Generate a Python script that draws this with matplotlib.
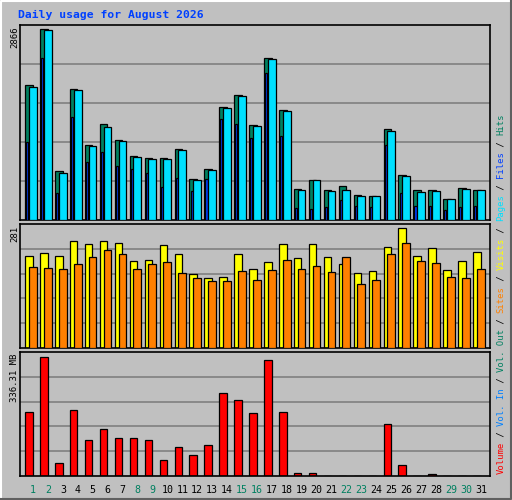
import matplotlib
matplotlib.use("Agg")
import matplotlib.pyplot as plt
import numpy as np

days = list(range(1, 32))
weekend = [1, 2, 8, 9, 15, 16, 22, 23, 29, 30]
hits = [2020, 2866, 730, 1960, 1120, 1435, 1195, 955, 925, 925, 1060, 610, 760, 1690, 1870, 1420,
        2425, 1645, 460, 595, 445, 505, 370, 355, 1360, 670, 445, 445, 310, 475, 445]
files = [1990, 2845, 700, 1945, 1105, 1390, 1180, 940, 910, 910, 1045, 595, 745, 1675, 1855, 1405,
         2410, 1630, 445, 595, 430, 445, 355, 355, 1330, 655, 415, 430, 310, 460, 445]
pages = [1165, 2425, 400, 1540, 865, 1015, 805, 760, 700, 490, 625, 430, 610, 1510, 1435, 1225,
         2200, 1255, 175, 160, 190, 295, 205, 190, 1120, 400, 205, 205, 145, 190, 205]
visits = [215, 222, 215, 251, 244, 251, 246, 204, 206, 241, 220, 173, 164, 166, 220, 185,
          201, 244, 211, 244, 213, 197, 176, 180, 237, 281, 215, 234, 183, 204, 225]
sites = [190, 187, 185, 197, 213, 229, 220, 185, 197, 201, 176, 164, 157, 157, 180, 159,
         183, 206, 185, 192, 178, 213, 150, 159, 220, 246, 204, 199, 166, 164, 185]
volume = [181, 336.31, 38, 187, 100, 131, 108, 108, 100, 46, 83, 60, 88, 235, 215, 178,
          328, 181, 9.4, 9.4, 0.6, 0.6, 0.6, 0.6, 147, 32, 0.6, 6.6, 0.6, 0.6, 0.6]

W, H = 512, 500
BG = "#c0c0c0"
fig = plt.figure(figsize=(W / 100, H / 100), dpi=100, facecolor=BG)
MONO = "DejaVu Sans Mono"

# outer bevel
from matplotlib.lines import Line2D
fig.add_artist(Line2D([1 / W, 1 / W, 1 - 1 / W], [1 / H, 1 - 1 / H, 1 - 1 / H], color="white", lw=1.5, transform=fig.transFigure))
fig.add_artist(Line2D([1 / W, 1 - 1 / W, 1 - 1 / W], [1 / H, 1 / H, 1 - 1 / H], color="#606060", lw=1.5, transform=fig.transFigure))


def px_axes(x0, y0, x1, y1):
    return fig.add_axes([x0 / W, 1 - y1 / H, (x1 - x0) / W, (y1 - y0) / H])


x_lo = 1 - (33 - 20) / 14.93
x_hi = 1 + (490 - 33) / 14.93
x = np.array(days, dtype=float)


def style(ax, ytop):
    ax.set_facecolor(BG)
    ax.set_xlim(x_lo, x_hi)
    ax.set_ylim(0, ytop)
    for f in (0.2, 0.4, 0.6, 0.8):
        ax.axhline(f * ytop, color="#808080", lw=1.2, zorder=0)
    ax.set_xticks([])
    ax.set_yticks([])
    for s in ax.spines.values():
        s.set_color("black")
        s.set_linewidth(1.2)


ek = dict(edgecolor="black", linewidth=0.9, align="edge")

ax1 = px_axes(20, 25, 490, 220)
style(ax1, 2866 / 0.979)
ax1.bar(x - 0.52, hits, width=0.5, color="#008060", zorder=2, **ek)
ax1.bar(x - 0.45, pages, width=0.14, color="#0040ff", zorder=3, **ek)
ax1.bar(x - 0.27, files, width=0.52, color="#00e0ff", zorder=4, **ek)

ax2 = px_axes(20, 224, 490, 348)
style(ax2, 281 / 0.968)
ax2.bar(x - 0.52, visits, width=0.5, color="#ffff00", zorder=2, **ek)
ax2.bar(x - 0.27, sites, width=0.52, color="#ff8000", zorder=3, **ek)

ax3 = px_axes(20, 352, 490, 476)
style(ax3, 336.31 / 0.963)
ax3.bar(x - 0.52, volume, width=0.5, color="#ff0000", zorder=2, **ek)

# day labels
for d in days:
    fig.text((33 + 14.93 * (d - 1)) / W, 1 - 490 / H, str(d), ha="center", va="center",
             family=MONO, fontsize=7.2, color="#008060" if d in weekend else "black")

# left max labels
for txt, ytop in (("2866", 27), ("281", 226), ("336.31 MB", 354)):
    fig.text(15 / W, 1 - ytop / H, txt, rotation=90, rotation_mode="anchor", ha="right", va="center",
             family=MONO, fontsize=6.5, color="black")

# title
fig.text(18 / W, 1 - 15 / H, "Daily usage for August 2026", ha="left", va="center",
         family=MONO, fontsize=8.2, fontweight="bold", color="#0040ff")

# right legend label
pieces = [("Volume", "#ff0000"), (" / ", "#000000"), ("Vol. In", "#0080ff"), (" / ", "#000000"),
          ("Vol. Out", "#008060"), (" / ", "#000000"), ("Sites", "#ff8000"), (" / ", "#000000"),
          ("Visits", "#ffff00"), (" / ", "#000000"), ("Pages", "#00e0ff"), (" / ", "#000000"),
          ("Files", "#0040ff"), (" / ", "#000000"), ("Hits", "#008060")]
total = sum(len(p) for p, _ in pieces)
y0, y1 = 474, 114
cw = (y0 - y1) / total
off = 0
for p, c in pieces:
    fig.text(501 / W, 1 - (y0 - off * cw) / H, p, rotation=90, rotation_mode="anchor",
             ha="left", va="center", family=MONO, fontsize=cw / 0.602 * 0.72, color=c)
    off += len(p)

fig.savefig("out.png", dpi=100, facecolor=BG)
